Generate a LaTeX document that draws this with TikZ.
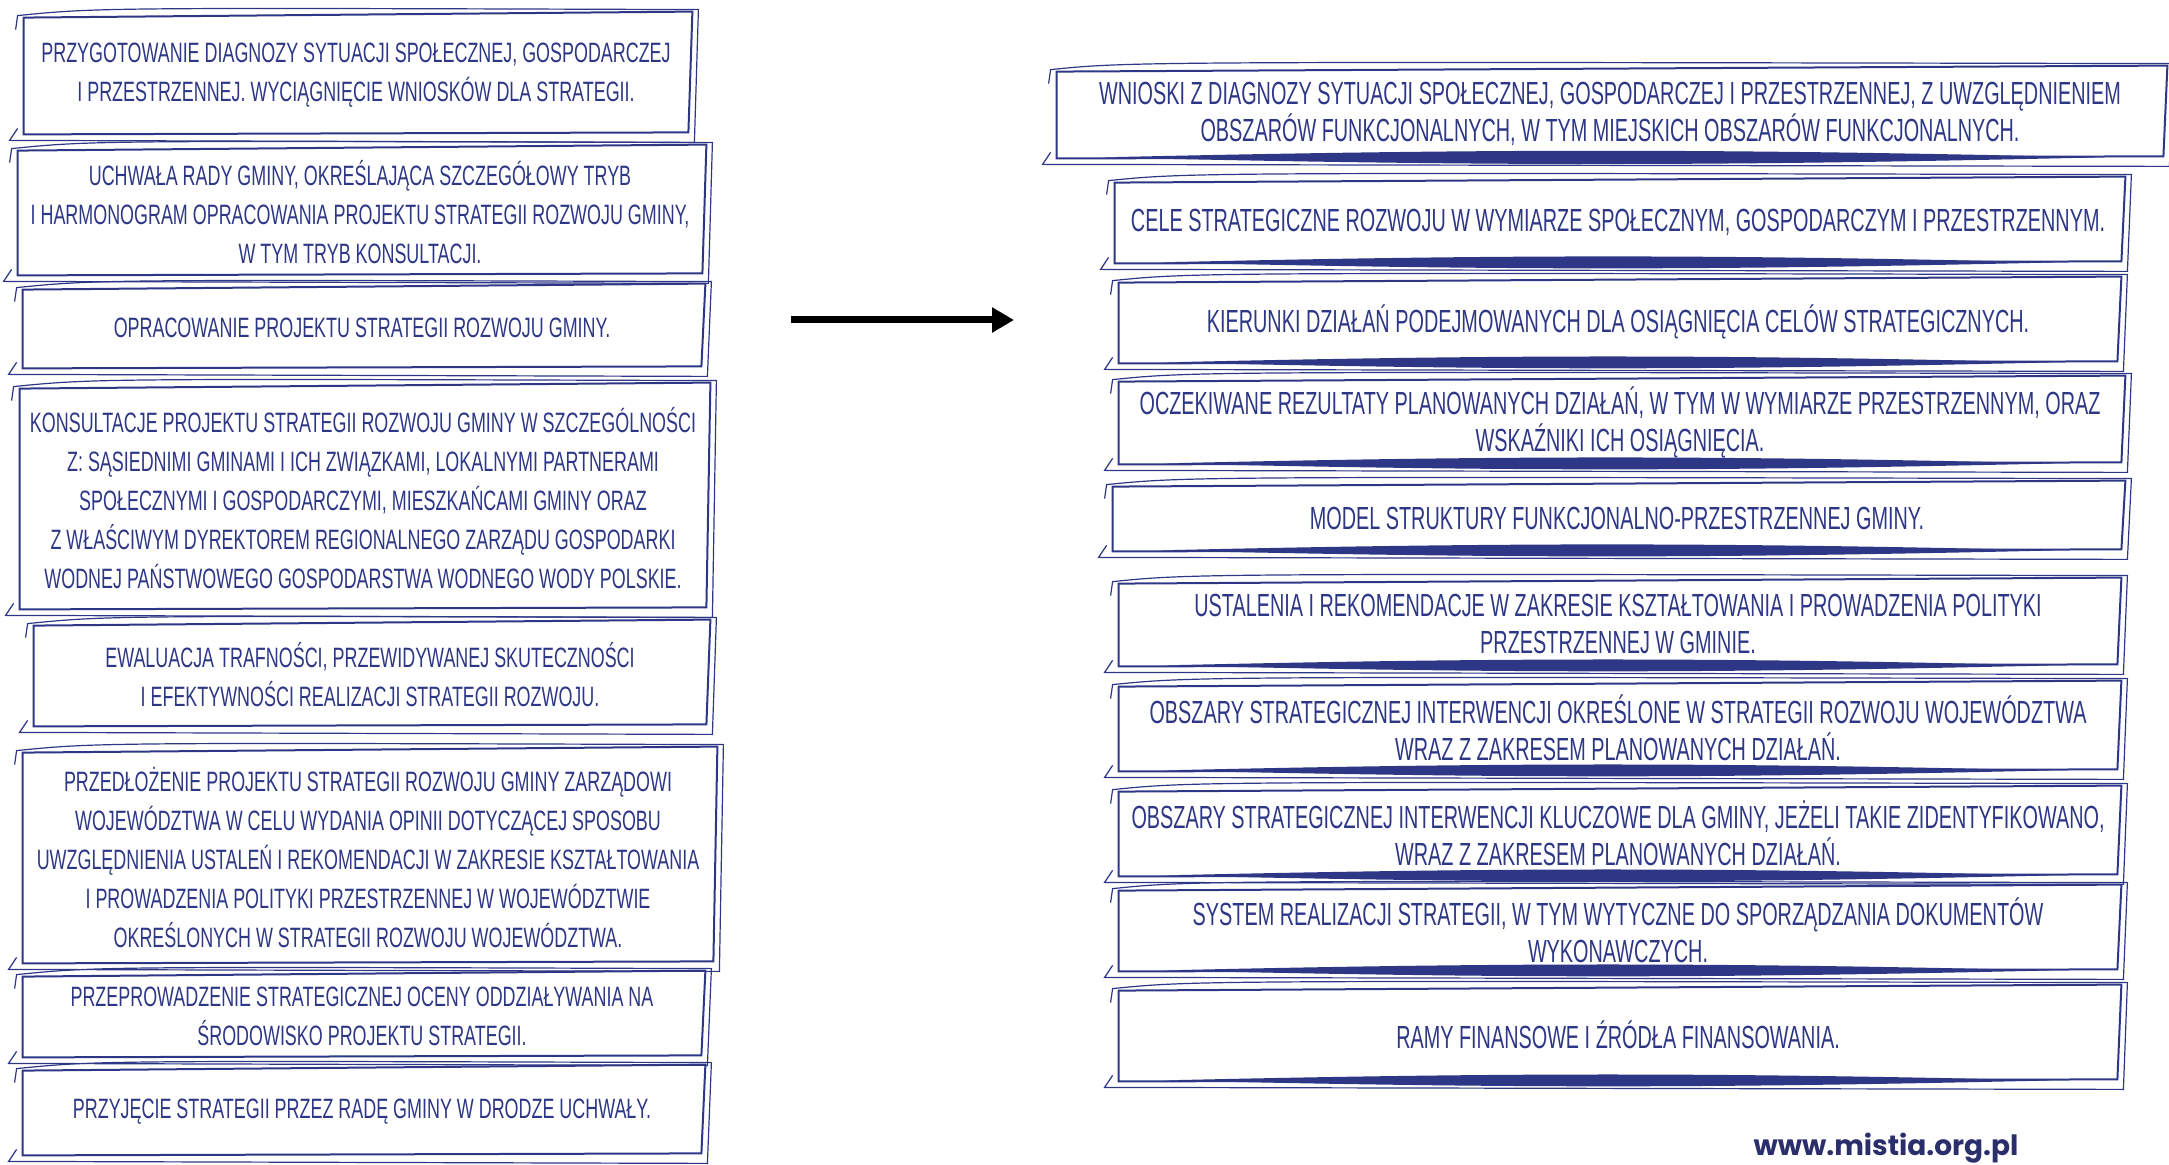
\documentclass[tikz,border=0pt]{standalone}
\usepackage{fontspec}
\setmainfont{Liberation Sans}
\newfontfamily\handl[FakeStretch=0.64]{Liberation Sans}
\newfontfamily\handr[FakeStretch=0.62]{Liberation Sans}
\newfontfamily\webfont{Poppins}
\usetikzlibrary{arrows.meta}
\definecolor{ink}{HTML}{2E3786}
\definecolor{webink}{HTML}{2A2F6B}

% hand drawn frame round a node
\newcommand{\sketchbox}[1]{%
  \draw[ink,line width=1pt]
    ([shift={(3pt,-3pt)}]#1.north west) -- ([shift={(-1pt,0pt)}]#1.north east)
    -- ([shift={(-3pt,3pt)}]#1.south east) -- ([shift={(3pt,2pt)}]#1.south west) -- cycle;
  \draw[ink,line width=0.6pt]
    ([shift={(-1pt,-9pt)}]#1.north west) -- ([shift={(0pt,-2pt)}]#1.north west)
    .. controls ([shift={(40pt,2pt)}]#1.north west) .. ([shift={(2pt,1pt)}]#1.north east)
    -- ([shift={(0pt,-2pt)}]#1.south east) -- ([shift={(-4pt,-1pt)}]#1.south west)
    -- ([shift={(0pt,5pt)}]#1.south west);}
% brush stroke under a node
\newcommand{\brush}[1]{%
  \fill[ink] ([shift={(25pt,2.5pt)}]#1.south west) to[bend left=1.3]
    ([shift={(-35pt,2.5pt)}]#1.south east) to[bend left=1.3] ([shift={(25pt,2.5pt)}]#1.south west);}

\begin{document}
\begin{tikzpicture}[x=0.5pt,y=-0.5pt,
  lbox/.style={text=ink,align=center,inner sep=0pt,
    font=\handl\fontsize{14}{19.5}\selectfont},
  rbox/.style={text=ink,align=center,inner sep=0pt,minimum width=505pt,
    font=\handr\fontsize{16}{18.5}\selectfont}]
\useasboundingbox (0,0) rectangle (2169,1165);

% steps of the procedure
\node[lbox,minimum width=338pt,minimum height=63pt] (diag) at (356,75)
  {PRZYGOTOWANIE DIAGNOZY SYTUACJI SPOŁECZNEJ, GOSPODARCZEJ\\I PRZESTRZENNEJ. WYCIĄGNIĘCIE WNIOSKÓW DLA STRATEGII.};
\node[lbox,minimum width=348pt,minimum height=67pt] (uchwala) at (360,212)
  {UCHWAŁA RADY GMINY, OKREŚLAJĄCA SZCZEGÓŁOWY TRYB\\I HARMONOGRAM OPRACOWANIA PROJEKTU STRATEGII ROZWOJU GMINY,\\W TYM TRYB KONSULTACJI.};
\node[lbox,minimum width=345pt,minimum height=44pt] (projekt) at (362,328)
  {OPRACOWANIE PROJEKTU STRATEGII ROZWOJU GMINY.};
\node[lbox,minimum width=349pt,minimum height=115pt] (konsult) at (363,498)
  {KONSULTACJE PROJEKTU STRATEGII ROZWOJU GMINY W SZCZEGÓLNOŚCI\\Z: SĄSIEDNIMI GMINAMI I ICH ZWIĄZKAMI, LOKALNYMI PARTNERAMI\\SPOŁECZNYMI I GOSPODARCZYMI, MIESZKAŃCAMI GMINY ORAZ\\Z WŁAŚCIWYM DYREKTOREM REGIONALNEGO ZARZĄDU GOSPODARKI\\WODNEJ PAŃSTWOWEGO GOSPODARSTWA WODNEGO WODY POLSKIE.};
\node[lbox,minimum width=342pt,minimum height=55pt] (ewaluacja) at (370,675)
  {EWALUACJA TRAFNOŚCI, PRZEWIDYWANEJ SKUTECZNOŚCI\\I EFEKTYWNOŚCI REALIZACJI STRATEGII ROZWOJU.};
\node[lbox,minimum width=351pt,minimum height=110pt] (przedl) at (368,857)
  {PRZEDŁOŻENIE PROJEKTU STRATEGII ROZWOJU GMINY ZARZĄDOWI\\WOJEWÓDZTWA W CELU WYDANIA OPINII DOTYCZĄCEJ SPOSOBU\\UWZGLĘDNIENIA USTALEŃ I REKOMENDACJI W ZAKRESIE KSZTAŁTOWANIA\\I PROWADZENIA POLITYKI PRZESTRZENNEJ W WOJEWÓDZTWIE\\OKREŚLONYCH W STRATEGII ROZWOJU WOJEWÓDZTWA.};
\node[lbox,minimum width=345pt,minimum height=45pt] (ocena) at (362,1016)
  {PRZEPROWADZENIE STRATEGICZNEJ OCENY ODDZIAŁYWANIA NA\\ŚRODOWISKO PROJEKTU STRATEGII.};
\node[lbox,minimum width=345pt,minimum height=47pt] (przyjecie) at (362,1112)
  {PRZYJĘCIE STRATEGII PRZEZ RADĘ GMINY W DRODZE UCHWAŁY.};

% contents of the strategy
\node[rbox,minimum width=559pt,minimum height=48pt] (wnioski) at (1610,114)
  {WNIOSKI Z DIAGNOZY SYTUACJI SPOŁECZNEJ, GOSPODARCZEJ I PRZESTRZENNEJ, Z UWZGLĘDNIENIEM\\OBSZARÓW FUNKCJONALNYCH, W TYM MIEJSKICH OBSZARÓW FUNKCJONALNYCH.};
\node[rbox,minimum width=509pt,minimum height=45pt] (cele) at (1618,222)
  {CELE STRATEGICZNE ROZWOJU W WYMIARZE SPOŁECZNYM, GOSPODARCZYM I PRZESTRZENNYM.};
\node[rbox,minimum height=45pt] (kierunki) at (1618,322)
  {KIERUNKI DZIAŁAŃ PODEJMOWANYCH DLA OSIĄGNIĘCIA CELÓW STRATEGICZNYCH.};
\node[rbox,minimum width=507pt,minimum height=46pt] (rezultaty) at (1620,422)
  {OCZEKIWANE REZULTATY PLANOWANYCH DZIAŁAŃ, W TYM W WYMIARZE PRZESTRZENNYM, ORAZ\\WSKAŹNIKI ICH OSIĄGNIĘCIA.};
\node[rbox,minimum width=510pt,minimum height=37pt] (model) at (1617,518)
  {MODEL STRUKTURY FUNKCJONALNO-PRZESTRZENNEJ GMINY.};
\node[rbox,minimum height=46pt] (ustalenia) at (1618,624)
  {USTALENIA I REKOMENDACJE W ZAKRESIE KSZTAŁTOWANIA I PROWADZENIA POLITYKI\\PRZESTRZENNEJ W GMINIE.};
\node[rbox,minimum height=47pt] (obszaryW) at (1618,728)
  {OBSZARY STRATEGICZNEJ INTERWENCJI OKREŚLONE W STRATEGII ROZWOJU WOJEWÓDZTWA\\WRAZ Z ZAKRESEM PLANOWANYCH DZIAŁAŃ.};
\node[rbox,minimum height=47pt] (obszaryG) at (1618,833)
  {OBSZARY STRATEGICZNEJ INTERWENCJI KLUCZOWE DLA GMINY, JEŻELI TAKIE ZIDENTYFIKOWANO,\\WRAZ Z ZAKRESEM PLANOWANYCH DZIAŁAŃ.};
\node[rbox,minimum height=45pt] (system) at (1618,930)
  {SYSTEM REALIZACJI STRATEGII, W TYM WYTYCZNE DO SPORZĄDZANIA DOKUMENTÓW\\WYKONAWCZYCH.};
\node[rbox,minimum height=50pt] (ramy) at (1618,1035)
  {RAMY FINANSOWE I ŹRÓDŁA FINANSOWANIA.};

\foreach \n in {diag,uchwala,projekt,konsult,ewaluacja,przedl,ocena,przyjecie}
  {\sketchbox{\n}}
\foreach \n in {wnioski,cele,kierunki,rezultaty,model,ustalenia,obszaryW,obszaryG,system,ramy}
  {\sketchbox{\n}\brush{\n}}

\coordinate (arrS) at (791,320);
\coordinate (arrE) at (1014,320);
\draw[line width=3.5pt,-{Triangle[length=11pt,width=12pt]}] (arrS) -- (arrE);

\node[text=webink,font=\webfont\bfseries\fontsize{14}{16}\selectfont] (web) at (1886,1148) {www.mistia.org.pl};
\end{tikzpicture}
\end{document}
